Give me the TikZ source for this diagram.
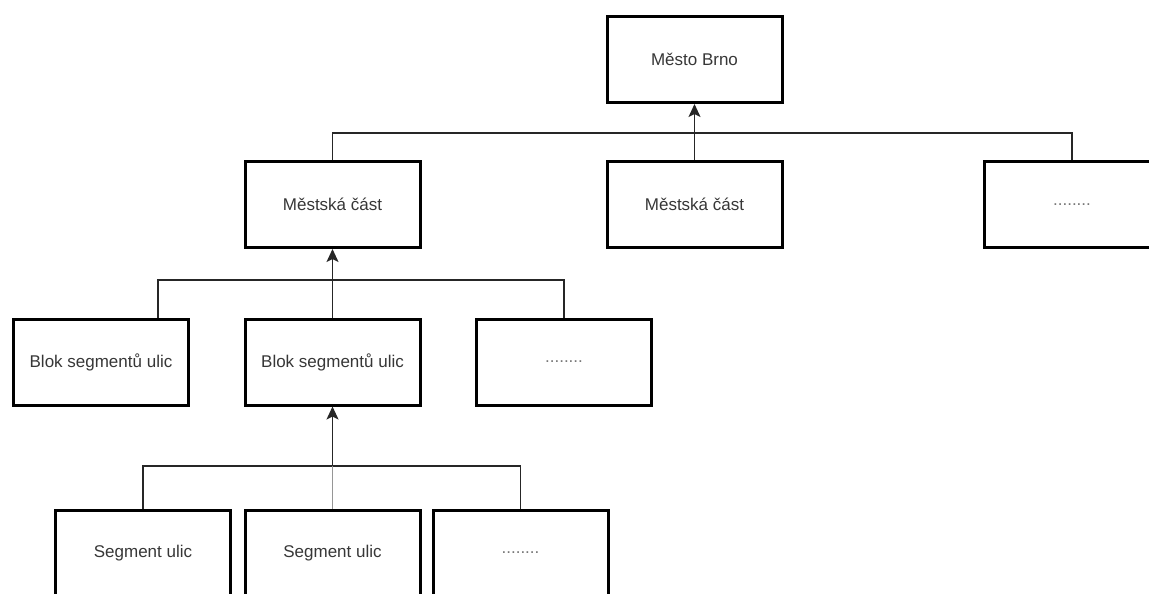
\documentclass[tikz,border=0pt]{standalone}
\usepackage{fontspec}
\setmainfont{Liberation Sans}
\usepackage{xcolor}
\usetikzlibrary{arrows.meta}
\definecolor{labelgray}{RGB}{55,55,55}
\definecolor{dotgray}{RGB}{120,120,120}
\definecolor{linegray}{RGB}{150,150,150}

\tikzset{
    unitbox/.style={draw=black, line width=3pt, fill=white,
        minimum width=175pt, minimum height=86pt, inner sep=0pt,
        text=labelgray, font=\fontsize{17}{20}\selectfont},
    link/.style={draw=black!85, line width=1.3pt},
    uplink/.style={link, -{Stealth[length=13pt,width=12pt,inset=3pt]}}
}

\begin{document}
\begin{tikzpicture}[x=1pt, y=-1pt]

\clip (0,0) rectangle (1149,594);

% top level
\node[unitbox] (brno) at (694.5,59.5) {Město Brno};

\node[unitbox] (cast1) at (332.5,204.5) {Městská část};
\node[unitbox] (cast2) at (694.5,204.5) {Městská část};
\node[unitbox, text=dotgray] (cast3) at (1072,204.5) {........};

\node[unitbox] (blk1) at (101,362) {Blok segmentů ulic};
\node[unitbox] (blk2) at (332.5,362) {Blok segmentů ulic};
\node[unitbox, text=dotgray] (blk3) at (564,362) {........};

\node[unitbox] (seg1) at (143,553) {Segment ulic};
\node[unitbox] (seg2) at (332.5,553) {Segment ulic};
\node[unitbox, text=dotgray] (seg3) at (520.5,553) {........};

\coordinate (bus1) at (694.5,133);
\coordinate (bus2) at (332.5,280);
\coordinate (bus3) at (332.5,466);

\draw[link] (cast1.north) |- (bus1) -| (cast3.north);
\draw[uplink] (cast2.north) -- (brno.south);

\draw[link] ([xshift=57pt]blk1.north) |- (bus2) -| (blk3.north);
\draw[uplink] (blk2.north) -- (cast1.south);

\draw[link] (seg1.north) |- (bus3) -| (seg3.north);
\draw[link, draw=linegray] (seg2.north) -- (bus3);
\draw[uplink] (bus3) -- (blk2.south);

\end{tikzpicture}
\end{document}
